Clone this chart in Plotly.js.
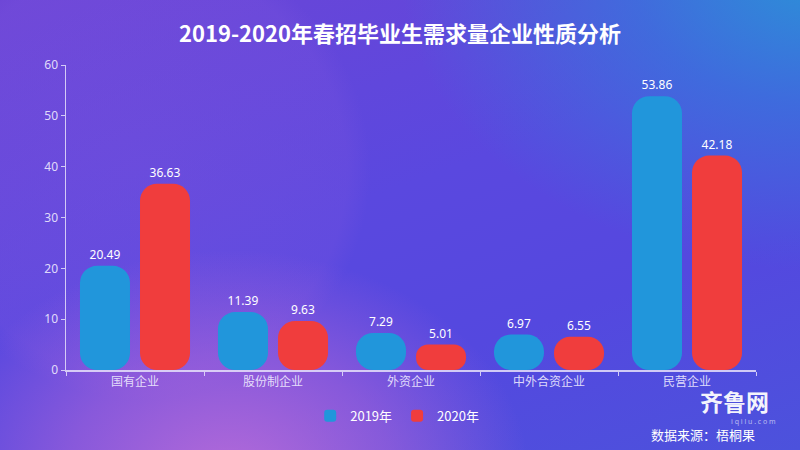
<!DOCTYPE html>
<html>
<head>
<meta charset="utf-8">
<script src="https://cdn.plot.ly/plotly-3.0.1.min.js"></script>
<style>
html,body{margin:0;padding:0;}
body{
  width:800px;height:450px;overflow:hidden;
  background:
    radial-gradient(ellipse 300px 230px at 230px 480px, rgba(205,115,215,0.8) 0%, rgba(185,105,215,0.5) 55%, rgba(160,90,215,0) 100%),
    radial-gradient(circle 230px at 140px 170px, rgba(125,85,222,0.35) 0%, rgba(125,85,222,0.25) 90%, rgba(125,85,222,0) 100%),
    radial-gradient(ellipse 420px 300px at 820px -30px, rgba(40,150,215,0.95) 0%, rgba(45,130,220,0.6) 45%, rgba(70,90,225,0) 100%),
    linear-gradient(160deg, #6c45d6 0%, #5a48df 45%, #5448df 70%, #4c52dc 100%);
}
#chart{width:800px;height:450px;}
</style>
</head>
<body>
<div id="chart"></div>
<script>
var categories = ['国有企业', '股份制企业', '外资企业', '中外合资企业', '民营企业'];
var series2019 = [20.49, 11.39, 7.29, 6.97, 53.86];
var series2020 = [36.63, 9.63, 5.01, 6.55, 42.18];
var seriesNames = ['2019年', '2020年'];
var colors = ['#2196db', '#f03d3d'];

function makeTrace(vals, name, color){
  return {
    type:'bar', x:categories, y:vals, base:0, name:name,
    marker:{color:color},
    text:vals.map(function(v){return v.toFixed(2);}),
    textposition:'outside', cliponaxis:false,
    textfont:{color:'#ffffff', size:12, family:'Noto Sans, Noto Sans CJK SC'}
  };
}

var data = [
  makeTrace(series2019, seriesNames[0], colors[0]),
  makeTrace(series2020, seriesNames[1], colors[1])
];

var axisColor = 'rgba(230,225,250,0.85)';
var layout = {
  width:800, height:450,
  paper_bgcolor:'rgba(0,0,0,0)', plot_bgcolor:'rgba(0,0,0,0)',
  margin:{l:66, r:44, t:65, b:80},
  font:{family:'Noto Sans CJK SC, Noto Sans, sans-serif', color:'#ffffff'},
  title:{text:'<b>2019-2020年春招毕业生需求量企业性质分析</b>', x:0.5, xanchor:'center', y:0.923, yanchor:'middle',
         font:{size:22, color:'#ffffff', family:'Noto Sans CJK SC'}},
  barmode:'group', bargap:0.13, bargroupgap:0.167, barcornerradius:17,
  xaxis:{showline:true, linecolor:axisColor, linewidth:1.5, ticks:'outside', tickson:'boundaries',
         ticklen:4, tickcolor:axisColor, showgrid:false, zeroline:false,
         tickfont:{size:12, color:'rgba(240,236,255,0.9)'}},
  yaxis:{range:[0,60], dtick:10, showline:true, linecolor:axisColor, linewidth:1.5, ticks:'outside',
         ticklen:4, tickcolor:axisColor, showgrid:false, zeroline:false,
         tickfont:{size:12, color:'rgba(240,236,255,0.9)', family:'Noto Sans'}},
  legend:{orientation:'h', x:0.48, xanchor:'center', y:-0.15, yanchor:'middle',
          font:{size:13, color:'#ffffff'}, itemwidth:30, traceorder:'normal'},
  annotations:[
    {text:'<b>齐鲁网</b>', xref:'paper', yref:'paper', x:1.02, y:-0.102, xanchor:'right', yanchor:'middle',
     showarrow:false, borderpad:0, font:{size:23, color:'rgba(255,255,255,0.95)', family:'Noto Sans CJK SC'}},
    {text:'i q i l u . c o m', xref:'paper', yref:'paper', x:1.03, y:-0.168, xanchor:'right', yanchor:'middle',
     showarrow:false, borderpad:0, font:{size:7, color:'rgba(255,255,255,0.6)', family:'Noto Sans'}},
    {text:'数据来源：梧桐果', xref:'paper', yref:'paper', x:1.0, y:-0.213, xanchor:'right', yanchor:'middle',
     showarrow:false, borderpad:0, font:{size:13, color:'#ffffff', family:'Noto Sans CJK SC'}}
  ]
};

Plotly.newPlot('chart', data, layout, {displayModeBar:false, staticPlot:true});
</script>
</body>
</html>
